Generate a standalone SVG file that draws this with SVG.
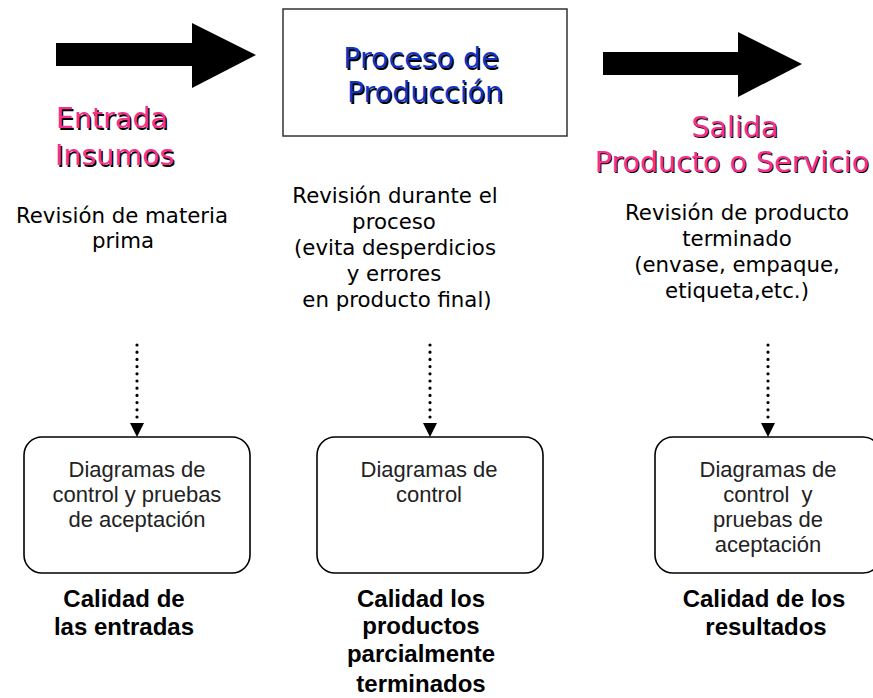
<svg xmlns="http://www.w3.org/2000/svg" width="873" height="698" viewBox="0 0 873 698">
<style>
.comic{font-family:"DejaVu Sans","Noto Sans",sans-serif;}
.title{font-size:28.5px;}
.pink{fill:#f4318e;}
.blue{fill:#1234c4;}
.shadow{fill:#000;}
.rev{font-size:21.3px;fill:#000;text-anchor:middle;}
.box{fill:#fff;stroke:#000;stroke-width:1.6;}
.btxt{font-family:"Liberation Sans",Arial,sans-serif;font-size:22px;fill:#222;text-anchor:middle;}
.bold{font-family:"Liberation Sans",Arial,sans-serif;font-size:24px;font-weight:bold;fill:#000;text-anchor:middle;}
.dots{stroke:#000;stroke-width:3.2;stroke-linecap:round;stroke-dasharray:0 7.2;fill:none;}
.head{fill:#000;}
</style>
<rect width="873" height="698" fill="#fff"/>
<g id="arrow-entrada">
<polygon points="56,43 192,43 192,23 256,55 192,88 192,66 56,66" fill="#000"/>
</g>
<g id="label-entrada" class="comic title" text-anchor="start">
<text x="57.5" y="129.5" class="shadow">Entrada</text>
<text x="56" y="128" class="pink">Entrada</text>
<text x="56.5" y="166.5" class="shadow">Insumos</text>
<text x="55" y="165" class="pink">Insumos</text>
</g>
<g id="node-proceso">
<rect x="283" y="9" width="284" height="127" fill="#fff" stroke="#333" stroke-width="1.5"/>
<g class="comic title" text-anchor="middle">
<text x="422.5" y="69.5" class="shadow">Proceso de</text>
<text x="421" y="68" class="blue">Proceso de</text>
<text x="426.5" y="103.5" class="shadow">Producción</text>
<text x="425" y="102" class="blue">Producción</text>
</g>
</g>
<g id="arrow-salida">
<polygon points="603,52 738,52 738,32 802,64 738,97 738,75 603,75" fill="#000"/>
</g>
<g id="label-salida" class="comic title" text-anchor="middle">
<text x="736" y="138" class="shadow">Salida</text>
<text x="735" y="137" class="pink">Salida</text>
<text x="733" y="173" class="shadow">Producto o Servicio</text>
<text x="732" y="172" class="pink">Producto o Servicio</text>
</g>
<g id="rev-entrada" class="comic rev">
<text x="122" y="223">Revisión de materia</text>
<text x="123" y="248">prima</text>
</g>
<g id="rev-proceso" class="comic rev">
<text x="395" y="203">Revisión durante el</text>
<text x="394" y="229">proceso</text>
<text x="395" y="255">(evita desperdicios</text>
<text x="394" y="281">y errores</text>
<text x="397" y="307">en producto final)</text>
</g>
<g id="rev-salida" class="comic rev">
<text x="737" y="220">Revisión de producto</text>
<text x="737" y="246">terminado</text>
<text x="737" y="272">(envase, empaque,</text>
<text x="737" y="298">etiqueta,etc.)</text>
</g>
<g id="connectors">
<line class="dots" x1="137" y1="345" x2="137" y2="418"/>
<polygon class="head" points="130,423 144,423 137,437"/>
<line class="dots" x1="430" y1="345" x2="430" y2="418"/>
<polygon class="head" points="423,423 437,423 430,437"/>
<line class="dots" x1="768" y1="345" x2="768" y2="418"/>
<polygon class="head" points="761,423 775,423 768,437"/>
</g>
<g id="box-entrada">
<rect class="box" x="24" y="437" width="226" height="136" rx="18"/>
<text class="btxt" x="137" y="477">Diagramas de</text>
<text class="btxt" x="137" y="502">control y pruebas</text>
<text class="btxt" x="137" y="527">de aceptación</text>
</g>
<g id="box-proceso">
<rect class="box" x="317" y="437" width="226" height="136" rx="18"/>
<text class="btxt" x="429" y="477">Diagramas de</text>
<text class="btxt" x="429" y="502">control</text>
</g>
<g id="box-salida">
<rect class="box" x="655" y="437" width="226" height="136" rx="18"/>
<text class="btxt" x="768" y="477">Diagramas de</text>
<text class="btxt" x="768" y="502" xml:space="preserve">control  y</text>
<text class="btxt" x="768" y="527">pruebas de</text>
<text class="btxt" x="768" y="552">aceptación</text>
</g>
<g id="calidad-entrada">
<text class="bold" x="124" y="607">Calidad de</text>
<text class="bold" x="124" y="635">las entradas</text>
</g>
<g id="calidad-proceso">
<text class="bold" x="421" y="607">Calidad los</text>
<text class="bold" x="421" y="634">productos</text>
<text class="bold" x="421" y="662">parcialmente</text>
<text class="bold" x="421" y="692">terminados</text>
</g>
<g id="calidad-salida">
<text class="bold" x="764" y="607">Calidad de los</text>
<text class="bold" x="766" y="635">resultados</text>
</g>
</svg>
